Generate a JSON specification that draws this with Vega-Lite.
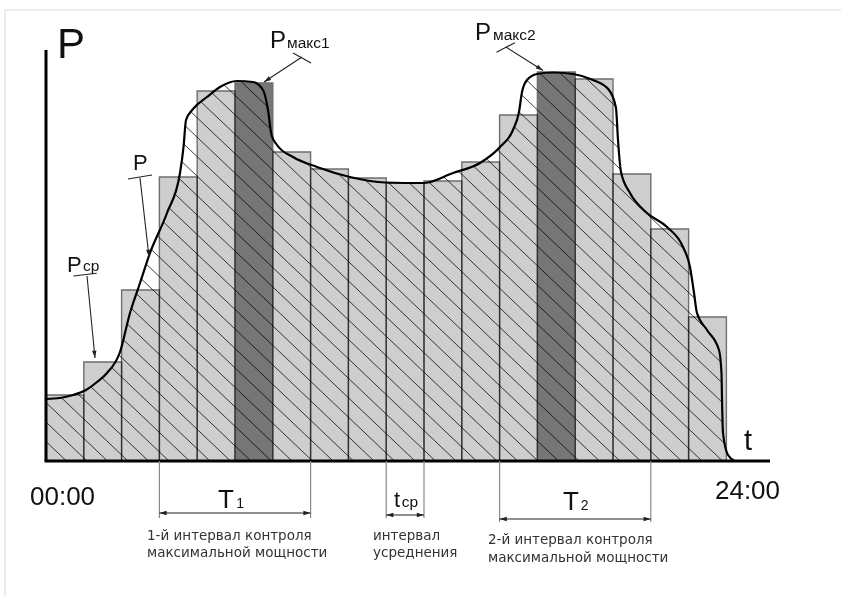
{
"$schema": "https://vega.github.io/schema/vega-lite/v6.json",
"width": 841, "height": 596, "padding": 0, "autosize": {"type": "none"},
"background": "white",
"config": {"view": {"stroke": null}},
"datasets": {
 "curve": [
  {"x":0,"y":62},{"x":0.37,"y":63},{"x":0.714,"y":66},{"x":1.058,"y":71},{"x":1.349,"y":79},{"x":1.614,"y":88},{"x":1.958,"y":109},{"x":2.222,"y":148},{"x":2.487,"y":178},{"x":2.751,"y":208},{"x":3.201,"y":248},{"x":3.545,"y":288},{"x":3.638,"y":314},{"x":3.704,"y":341},{"x":3.889,"y":352},{"x":4.259,"y":364},{"x":4.603,"y":374},{"x":5.053,"y":380},{"x":5.476,"y":379},{"x":5.741,"y":371},{"x":5.873,"y":351},{"x":5.966,"y":326},{"x":6.111,"y":316},{"x":6.534,"y":304},{"x":7.169,"y":294},{"x":8.042,"y":284},{"x":8.968,"y":278.5},{"x":9.974,"y":278},{"x":10.767,"y":288},{"x":11.481,"y":298},{"x":12.011,"y":314},{"x":12.354,"y":331},{"x":12.513,"y":349},{"x":12.593,"y":369},{"x":12.725,"y":381},{"x":12.989,"y":387},{"x":13.413,"y":388.5},{"x":13.942,"y":387},{"x":14.471,"y":381},{"x":14.894,"y":371},{"x":15.079,"y":353},{"x":15.132,"y":321},{"x":15.212,"y":289},{"x":15.45,"y":268},{"x":15.899,"y":248},{"x":16.429,"y":234},{"x":16.852,"y":214},{"x":17.037,"y":194},{"x":17.143,"y":168},{"x":17.222,"y":148},{"x":17.487,"y":131},{"x":17.804,"y":111},{"x":17.87,"y":88},{"x":17.884,"y":61},{"x":17.91,"y":28},{"x":18.042,"y":6},{"x":18.228,"y":0}
 ],
 "bars": [
  {"x":0,"x2":1,"y":66,"kind":"norm"},{"x":1,"x2":2,"y":99,"kind":"norm"},{"x":2,"x2":3,"y":171,"kind":"norm"},{"x":3,"x2":4,"y":284,"kind":"norm"},{"x":4,"x2":5,"y":370,"kind":"norm"},{"x":5,"x2":6,"y":378,"kind":"max"},{"x":6,"x2":7,"y":309,"kind":"norm"},{"x":7,"x2":8,"y":292,"kind":"norm"},{"x":8,"x2":9,"y":283,"kind":"norm"},{"x":9,"x2":10,"y":278,"kind":"norm"},{"x":10,"x2":11,"y":280,"kind":"norm"},{"x":11,"x2":12,"y":299,"kind":"norm"},{"x":12,"x2":13,"y":346,"kind":"norm"},{"x":13,"x2":14,"y":389,"kind":"max"},{"x":14,"x2":15,"y":382,"kind":"norm"},{"x":15,"x2":16,"y":287,"kind":"norm"},{"x":16,"x2":17,"y":232,"kind":"norm"},{"x":17,"x2":18,"y":144,"kind":"norm"}
 ],
 "hatch": [
  {"x":0,"x2":-11.14,"y":0,"y2":400},{"x":0.542,"x2":-10.598,"y":0,"y2":400},{"x":1.085,"x2":-10.055,"y":0,"y2":400},{"x":1.627,"x2":-9.513,"y":0,"y2":400},{"x":2.169,"x2":-8.971,"y":0,"y2":400},{"x":2.712,"x2":-8.428,"y":0,"y2":400},{"x":3.254,"x2":-7.886,"y":0,"y2":400},{"x":3.796,"x2":-7.344,"y":0,"y2":400},{"x":4.339,"x2":-6.801,"y":0,"y2":400},{"x":4.881,"x2":-6.259,"y":0,"y2":400},{"x":5.423,"x2":-5.717,"y":0,"y2":400},{"x":5.966,"x2":-5.174,"y":0,"y2":400},{"x":6.508,"x2":-4.632,"y":0,"y2":400},{"x":7.05,"x2":-4.09,"y":0,"y2":400},{"x":7.593,"x2":-3.547,"y":0,"y2":400},{"x":8.135,"x2":-3.005,"y":0,"y2":400},{"x":8.677,"x2":-2.463,"y":0,"y2":400},{"x":9.22,"x2":-1.92,"y":0,"y2":400},{"x":9.762,"x2":-1.378,"y":0,"y2":400},{"x":10.304,"x2":-0.836,"y":0,"y2":400},{"x":10.847,"x2":-0.293,"y":0,"y2":400},{"x":11.389,"x2":0.249,"y":0,"y2":400},{"x":11.931,"x2":0.791,"y":0,"y2":400},{"x":12.474,"x2":1.334,"y":0,"y2":400},{"x":13.016,"x2":1.876,"y":0,"y2":400},{"x":13.558,"x2":2.418,"y":0,"y2":400},{"x":14.101,"x2":2.961,"y":0,"y2":400},{"x":14.643,"x2":3.503,"y":0,"y2":400},{"x":15.185,"x2":4.045,"y":0,"y2":400},{"x":15.728,"x2":4.588,"y":0,"y2":400},{"x":16.27,"x2":5.13,"y":0,"y2":400},{"x":16.812,"x2":5.672,"y":0,"y2":400},{"x":17.355,"x2":6.215,"y":0,"y2":400},{"x":17.897,"x2":6.757,"y":0,"y2":400},{"x":18.439,"x2":7.299,"y":0,"y2":400},{"x":18.982,"x2":7.842,"y":0,"y2":400},{"x":19.524,"x2":8.384,"y":0,"y2":400},{"x":20.066,"x2":8.926,"y":0,"y2":400},{"x":20.609,"x2":9.469,"y":0,"y2":400},{"x":21.151,"x2":10.011,"y":0,"y2":400},{"x":21.693,"x2":10.553,"y":0,"y2":400},{"x":22.236,"x2":11.096,"y":0,"y2":400},{"x":22.778,"x2":11.638,"y":0,"y2":400},{"x":23.32,"x2":12.18,"y":0,"y2":400},{"x":23.863,"x2":12.723,"y":0,"y2":400},{"x":24.405,"x2":13.265,"y":0,"y2":400},{"x":24.947,"x2":13.807,"y":0,"y2":400},{"x":25.49,"x2":14.35,"y":0,"y2":400}
 ]
},
"encoding": {
 "x": {"field":"x","type":"quantitative","scale":{"domain":[-1.21693,21.0317],"nice":false,"zero":false},"axis":null},
 "y": {"field":"y","type":"quantitative","scale":{"domain":[-135,461],"nice":false,"zero":false},"axis":null}
},
"layer": [
 {"data":{"name":"hatch"},"mark":{"type":"rule","stroke":"#2a2a2a","strokeWidth":0.9},
  "encoding":{"x2":{"field":"x2"},"y2":{"field":"y2"}}},
 {"data":{"name":"curve"},"mark":{"type":"area","interpolate":"monotone","fill":"white"},
  "encoding":{"y2":{"datum":461}}},
 {"data":{"values":[{"x":-1.3,"x2":0,"y":-2,"y2":461},{"x":18.228,"x2":21.2,"y":-2,"y2":461}]},"mark":{"type":"rect","fill":"white"},
  "encoding":{"x2":{"field":"x2"},"y2":{"field":"y2"}}},
 {"data":{"values":[{"x":-1.085,"y":451,"x2":21.1,"y2":451},{"x":-1.085,"y":451,"x2":-1.085,"y2":-140}]},
  "mark":{"type":"rule","stroke":"#ececec","strokeWidth":2},
  "encoding":{"x2":{"field":"x2"},"y2":{"field":"y2"}}},
 {"data":{"name":"bars"},"mark":{"type":"rect","stroke":"#6e6e6e","strokeWidth":1.4,"blend":"multiply"},
  "encoding":{"x2":{"field":"x2"},"y2":{"datum":0},
   "color":{"field":"kind","type":"nominal","scale":{"domain":["norm","max"],"range":["#cecece","#767676"]},"legend":null}}},
 {"data":{"name":"curve"},"mark":{"type":"line","interpolate":"monotone","stroke":"black","strokeWidth":2.2},"encoding":{}},
 {"data":{"values":[{"x":0,"y":0,"x2":0,"y2":411},{"x":-0.04,"y":0,"x2":19.153,"y2":0}]},
  "mark":{"type":"rule","stroke":"black","strokeWidth":3},
  "encoding":{"x2":{"field":"x2"},"y2":{"field":"y2"}}},
 {"data":{"values":[{"x":3,"y":0,"x2":3,"y2":-57},{"x":7,"y":0,"x2":7,"y2":-57},{"x":9,"y":0,"x2":9,"y2":-57},{"x":10,"y":0,"x2":10,"y2":-57},{"x":12,"y":0,"x2":12,"y2":-61},{"x":16,"y":0,"x2":16,"y2":-61}]},
  "mark":{"type":"rule","stroke":"#8a8a8a","strokeWidth":1.2},
  "encoding":{"x2":{"field":"x2"},"y2":{"field":"y2"}}},
 {"data":{"values":[{"x":3,"y":-52,"x2":7,"y2":-52},{"x":9,"y":-54,"x2":10,"y2":-54},{"x":12,"y":-58,"x2":16,"y2":-58},
   {"x":6.772,"y":404,"x2":5.767,"y2":379},{"x":6.534,"y":408,"x2":7.011,"y2":398},
   {"x":12.169,"y":414,"x2":13.148,"y2":390.5},{"x":11.918,"y":408.7,"x2":12.402,"y2":418.3},
   {"x":2.487,"y":283,"x2":2.725,"y2":204},{"x":2.169,"y":282,"x2":2.804,"y2":286},
   {"x":1.085,"y":185,"x2":1.296,"y2":103},{"x":0.722,"y":185,"x2":1.341,"y2":187.7}]},
  "mark":{"type":"rule","stroke":"#222","strokeWidth":1.1},
  "encoding":{"x2":{"field":"x2"},"y2":{"field":"y2"}}},
 {"data":{"values":[{"x":7,"y":-52},{"x":10,"y":-54},{"x":16,"y":-58}]},
  "mark":{"type":"point","shape":"M0,0L-0.55,1.8L0.55,1.8Z","filled":true,"color":"#222","opacity":1,"size":64,"angle":90}},
 {"data":{"values":[{"x":3,"y":-52},{"x":9,"y":-54},{"x":12,"y":-58}]},
  "mark":{"type":"point","shape":"M0,0L-0.55,1.8L0.55,1.8Z","filled":true,"color":"#222","opacity":1,"size":64,"angle":270}},
 {"data":{"values":[{"x":5.767,"y":379}]},
  "mark":{"type":"point","shape":"M0,0L-0.55,1.8L0.55,1.8Z","filled":true,"color":"#222","opacity":1,"size":64,"angle":237}},
 {"data":{"values":[{"x":13.148,"y":390.5}]},
  "mark":{"type":"point","shape":"M0,0L-0.55,1.8L0.55,1.8Z","filled":true,"color":"#222","opacity":1,"size":64,"angle":123}},
 {"data":{"values":[{"x":2.725,"y":204},{"x":1.296,"y":103}]},
  "mark":{"type":"point","shape":"M0,0L-0.55,1.8L0.55,1.8Z","filled":true,"color":"#222","opacity":1,"size":64,"angle":174}},
 {"data":{"values":[{"x":0.291,"y":403,"label":"P"}]},
  "mark":{"type":"text","font":"Liberation Sans","fontSize":42,"align":"left","baseline":"alphabetic","color":"#111"},
  "encoding":{"text":{"field":"label"}}},
 {"data":{"values":[{"x":18.466,"y":11,"label":"t"}]},
  "mark":{"type":"text","font":"Liberation Sans","fontSize":29,"align":"left","baseline":"alphabetic","color":"#111"},
  "encoding":{"text":{"field":"label"}}},
 {"data":{"values":[{"x":0.437,"y":-44,"label":"00:00"},{"x":18.558,"y":-38,"label":"24:00"}]},
  "mark":{"type":"text","font":"Liberation Sans","fontSize":26,"align":"center","baseline":"alphabetic","color":"#111"},
  "encoding":{"text":{"field":"label"}}},
 {"data":{"values":[{"x":4.55,"y":-47,"label":"T"},{"x":13.677,"y":-49,"label":"T"}]},
  "mark":{"type":"text","font":"Liberation Sans","fontSize":26,"align":"left","baseline":"alphabetic","color":"#111"},
  "encoding":{"text":{"field":"label"}}},
 {"data":{"values":[{"x":5.03,"y":-47,"label":"1"},{"x":14.15,"y":-49,"label":"2"}]},
  "mark":{"type":"text","font":"Liberation Sans","fontSize":14,"align":"left","baseline":"alphabetic","color":"#111"},
  "encoding":{"text":{"field":"label"}}},
 {"data":{"values":[{"x":9.206,"y":-46,"label":"t"}]},
  "mark":{"type":"text","font":"Liberation Sans","fontSize":22,"align":"left","baseline":"alphabetic","color":"#111"},
  "encoding":{"text":{"field":"label"}}},
 {"data":{"values":[{"x":9.41,"y":-46,"label":"ср"},{"x":0.979,"y":190,"label":"ср"},{"x":6.376,"y":413,"label":"макс1"},{"x":11.825,"y":421,"label":"макс2"}]},
  "mark":{"type":"text","font":"Liberation Sans","fontSize":15.5,"align":"left","baseline":"alphabetic","color":"#111"},
  "encoding":{"text":{"field":"label"}}},
 {"data":{"values":[{"x":5.926,"y":413,"label":"P"},{"x":11.349,"y":421,"label":"P"}]},
  "mark":{"type":"text","font":"Liberation Sans","fontSize":24,"align":"left","baseline":"alphabetic","color":"#111"},
  "encoding":{"text":{"field":"label"}}},
 {"data":{"values":[{"x":2.302,"y":291,"label":"P"},{"x":0.556,"y":189,"label":"P"}]},
  "mark":{"type":"text","font":"Liberation Sans","fontSize":22,"align":"left","baseline":"alphabetic","color":"#111"},
  "encoding":{"text":{"field":"label"}}},
 {"data":{"values":[{"x":2.672,"y":-79,"label":"1-й интервал контроля"},{"x":2.672,"y":-96,"label":"максимальной мощности"},{"x":8.651,"y":-79,"label":"интервал"},{"x":8.651,"y":-96,"label":"усреднения"},{"x":11.693,"y":-83,"label":"2-й интервал контроля"},{"x":11.693,"y":-101,"label":"максимальной мощности"}]},
  "mark":{"type":"text","font":"DejaVu Sans","fontSize":13.5,"align":"left","baseline":"alphabetic","color":"#333"},
  "encoding":{"text":{"field":"label"}}}
]
}
